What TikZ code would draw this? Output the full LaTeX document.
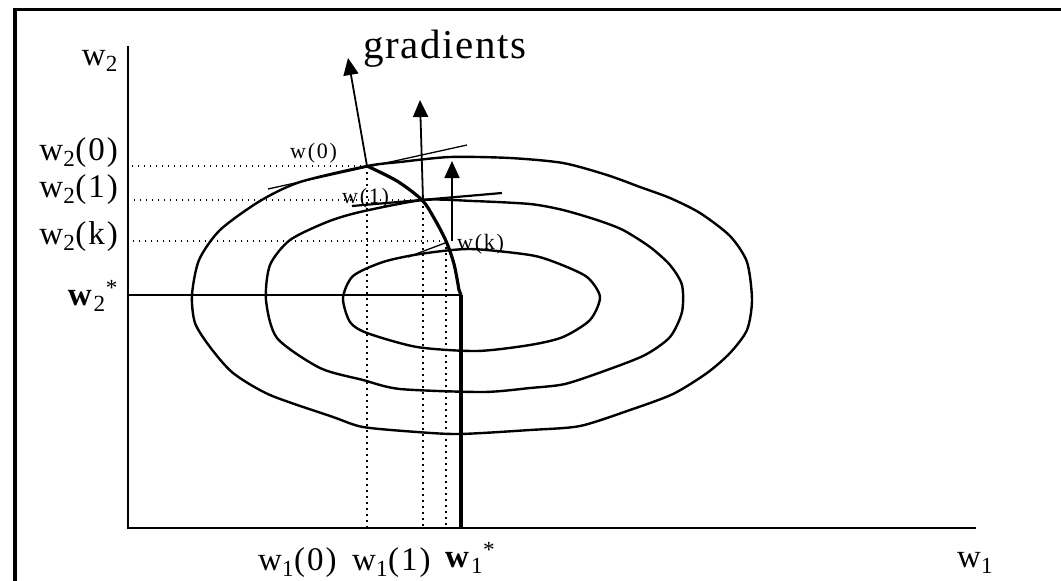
\documentclass[tikz,border=0pt]{standalone}
\usepackage{fontspec}
\setmainfont{Liberation Serif}
\usetikzlibrary{arrows.meta}
\begin{document}
\begin{tikzpicture}[x=1pt,y=-1pt,
  lbl/.style={inner sep=0pt, font=\fontsize{33}{33}\selectfont\addfontfeature{LetterSpace=6}},
  small/.style={inner sep=0pt, font=\fontsize{22}{22}\selectfont\addfontfeature{LetterSpace=8}},
  big/.style={inner sep=0pt, font=\fontsize{41}{41}\selectfont\addfontfeature{LetterSpace=4}},
  axisline/.style={line width=2pt},
  contour/.style={line width=2.4pt, line join=round},
  guide/.style={line width=1.5pt, dash pattern=on 1.5pt off 4.5pt},
  grad/.style={line width=1.8pt, -{Triangle[length=17pt,width=15pt]}},
  tangent/.style={line width=1.3pt},
  descent/.style={line width=3.2pt, line join=round}]
\useasboundingbox (0,0) rectangle (1061,581);
% frame
\draw[line width=4pt] (15,581) -- (15,8);
\draw[line width=3pt] (13,9.5) -- (1061,9.5);
% key points
\coordinate (O) at (128,528);
\coordinate (ytop) at (128,46);
\coordinate (xend) at (976,528);
\coordinate (w0) at (367,166);
\coordinate (w1) at (423,200);
\coordinate (wk) at (446,241);
\coordinate (ws) at (461,295);
\coordinate (ys) at (128,295);
\coordinate (xs) at (461,528);
% axes
\draw[axisline] (ytop) -- (O) -- (xend);
\draw[line width=1.8pt] (ys) -- (ws);
% contours
\draw[contour] plot[smooth cycle, tension=0.45] coordinates {(192,295) (195,323) (210,347) (233,373) (270,395) (333,417) (363,427) (417,432) (460,434) (530,430) (580,426) (630,410) (673,394) (707,373) (730,353) (747,330) (752,300) (747,262) (730,236) (700,213) (670,198) (640,187) (607,175) (563,163) (510,158) (450,157) (400,162) (367,166) (300,182) (260,201) (220,230) (199,260)};
\draw[contour] plot[smooth cycle, tension=0.45] coordinates {(266,300) (277,338) (320,368) (363,380) (400,389) (483,392) (530,388) (565,384) (607,370) (645,355) (670,337) (682,312) (682,285) (670,265) (650,247) (623,230) (597,220) (563,210) (530,204) (473,201) (423,200) (360,212) (327,222) (290,240) (270,265)};
\draw[contour] plot[smooth cycle, tension=0.45] coordinates {(343,298) (350,322) (367,333) (417,347) (477,351) (530,345) (563,337) (590,320) (600,297) (587,277) (557,263) (530,255) (470,249) (420,254) (383,262) (353,276)};
% guide lines
\draw[guide] (w0) -- (128,166);
\draw[guide] (w1) -- (128,200);
\draw[guide] (wk) -- (128,241);
\draw[guide] (w0) -- (367,528);
\draw[guide] (w1) -- (423,528);
\draw[guide] (wk) -- (446,528);
% tangents
\coordinate (t0a) at (268,189);
\coordinate (t0b) at (467,145);
\coordinate (t1a) at (352,206);
\coordinate (t1b) at (502,193);
\coordinate (tka) at (408,257);
\coordinate (tkb) at (445,243);
\draw[tangent] (t0a) -- (t0b);
\draw[line width=2.2pt] (t1a) -- (t1b);
\draw[tangent] (tka) -- (tkb);
% descent path
\draw[descent] plot[smooth, tension=0.5] coordinates {(367,166) (397,181) (422,200) (434,218) (446,241) (454,264) (459,290)} -- (ws);
\draw[line width=4pt] (ws) -- (xs);
% gradients
\coordinate (g0) at (348,58);
\coordinate (g1) at (420,100);
\coordinate (gk) at (452,161);
\draw[grad] (w0) -- (g0);
\draw[grad] (w1) -- (g1);
\draw[grad] (452,241) -- (gk);
% labels
\node[big, anchor=base west] (grad) at (363,58) {gradients};
\node[small, anchor=base west] (lw0) at (290,158) {w(0)};
\node[small, anchor=base west] (lw1) at (342,203) {w(1)};
\node[small, anchor=base west] (lwk) at (457,249) {w(k)};
\node[lbl, anchor=base east] (y2) at (118,65) {w\textsubscript{2}};
\node[lbl, anchor=base east] (y20) at (118,160) {w\textsubscript{2}(0)};
\node[lbl, anchor=base east] (y21) at (118,197) {w\textsubscript{2}(1)};
\node[lbl, anchor=base east] (y2k) at (118,244) {w\textsubscript{2}(k)};
\node[lbl, anchor=base east] (y2s) at (118,305) {\textbf{w}\textsubscript{2}\textsuperscript{*}};
\node[lbl, anchor=base west] (x10) at (258,570) {w\textsubscript{1}(0)};
\node[lbl, anchor=base west] (x11) at (352,570) {w\textsubscript{1}(1)};
\node[lbl, anchor=base west] (x1s) at (445,567) {\textbf{w}\textsubscript{1}\textsuperscript{*}};
\node[lbl, anchor=base west] (x1) at (957,567) {w\textsubscript{1}};
\end{tikzpicture}
\end{document}
